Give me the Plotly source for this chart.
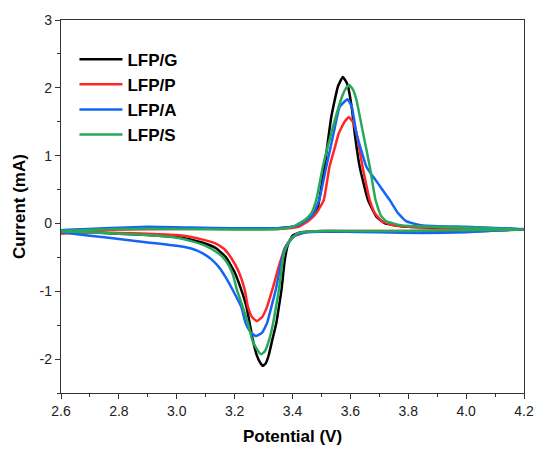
import plotly.graph_objects as go

names = ["LFP/G", "LFP/P", "LFP/A", "LFP/S"]
colors = ["#000000", "#FF2626", "#1565F5", "#27A85A"]

# LFP/G (forward scan 2.6 -> 4.2, then reverse 4.2 -> 2.6)
g_v = [2.60, 2.80, 3.00, 3.20, 3.35, 3.41, 3.445, 3.47, 3.488, 3.50, 3.511, 3.522, 3.534, 3.557, 3.574,
       3.590, 3.605, 3.615, 3.632, 3.661, 3.690, 3.72, 3.80, 4.00, 4.20,
       4.00, 3.80, 3.60, 3.50, 3.43, 3.40, 3.385, 3.373, 3.362, 3.353, 3.344, 3.330, 3.318, 3.308, 3.298,
       3.288, 3.277, 3.263, 3.252, 3.241, 3.223, 3.20, 3.17, 3.137, 3.10, 3.05, 3.00, 2.90, 2.80, 2.70, 2.60]
g_i = [-0.10, -0.08, -0.07, -0.07, -0.07, -0.04, 0.05, 0.12, 0.25, 0.55, 0.84, 1.20, 1.57, 2.02, 2.16,
       2.05, 1.70, 1.33, 0.84, 0.345, 0.10, 0.0, -0.05, -0.07, -0.09,
       -0.11, -0.12, -0.12, -0.12, -0.13, -0.18, -0.30, -0.55, -0.98, -1.23, -1.47, -1.72, -1.94, -2.06, -2.10,
       -2.05, -1.95, -1.72, -1.47, -1.23, -0.98, -0.72, -0.50, -0.37, -0.30, -0.24, -0.20, -0.17, -0.15, -0.13, -0.12]

# LFP/P
p_v = [2.60, 2.80, 3.00, 3.20, 3.35, 3.42, 3.459, 3.485, 3.508, 3.528, 3.545, 3.560, 3.580, 3.595,
       3.608, 3.621, 3.642, 3.667, 3.685, 3.707, 3.74, 3.80, 4.00, 4.20,
       4.00, 3.80, 3.60, 3.50, 3.45, 3.40, 3.375, 3.355, 3.330, 3.312, 3.295, 3.277, 3.260, 3.246,
       3.235, 3.215, 3.19, 3.165, 3.137, 3.10, 3.05, 3.00, 2.90, 2.80, 2.70, 2.60]
p_i = [-0.12, -0.09, -0.08, -0.08, -0.08, -0.05, 0.05, 0.17, 0.345, 0.84, 1.10, 1.33, 1.50, 1.565,
       1.50, 1.33, 0.84, 0.345, 0.15, 0.04, -0.02, -0.05, -0.07, -0.09,
       -0.10, -0.11, -0.11, -0.11, -0.12, -0.20, -0.35, -0.60, -0.98, -1.23, -1.38, -1.44, -1.38, -1.23,
       -0.98, -0.72, -0.52, -0.38, -0.30, -0.25, -0.20, -0.17, -0.15, -0.14, -0.13, -0.15]

# LFP/A
a_v = [2.60, 2.75, 2.90, 3.05, 3.20, 3.35, 3.41, 3.445, 3.47, 3.492, 3.517, 3.542, 3.563, 3.590,
       3.605, 3.621, 3.655, 3.670, 3.684, 3.71, 3.736, 3.765, 3.794, 3.85, 4.00, 4.20,
       4.00, 3.85, 3.70, 3.55, 3.45, 3.41, 3.38, 3.365, 3.342, 3.327, 3.312, 3.295, 3.273, 3.255,
       3.238, 3.223, 3.192, 3.17, 3.145, 3.12, 3.09, 3.05, 3.00, 2.90, 2.80, 2.70, 2.60]
a_i = [-0.10, -0.07, -0.05, -0.06, -0.07, -0.07, -0.04, 0.04, 0.13, 0.345, 0.84, 1.33, 1.72, 1.83,
       1.72, 1.33, 0.84, 0.74, 0.66, 0.50, 0.345, 0.15, 0.03, -0.03, -0.05, -0.08,
       -0.13, -0.14, -0.13, -0.12, -0.13, -0.17, -0.32, -0.50, -0.98, -1.23, -1.47, -1.61, -1.66, -1.60,
       -1.47, -1.23, -0.97, -0.80, -0.64, -0.53, -0.44, -0.37, -0.33, -0.28, -0.23, -0.18, -0.13]

# LFP/S
s_v = [2.60, 2.80, 3.00, 3.20, 3.35, 3.40, 3.442, 3.465, 3.482, 3.505, 3.534, 3.567, 3.583, 3.596,
       3.608, 3.621, 3.644, 3.667, 3.687, 3.705, 3.724, 3.78, 4.00, 4.20,
       4.00, 3.80, 3.60, 3.50, 3.42, 3.39, 3.37, 3.353, 3.343, 3.333, 3.319, 3.305, 3.292, 3.278, 3.261,
       3.246, 3.228, 3.208, 3.196, 3.189, 3.18, 3.16, 3.137, 3.10, 3.05, 3.00, 2.90, 2.80, 2.70, 2.60]
s_i = [-0.11, -0.08, -0.08, -0.09, -0.08, -0.05, 0.05, 0.15, 0.345, 0.84, 1.33, 1.82, 1.98, 2.04,
       1.98, 1.82, 1.33, 0.84, 0.345, 0.12, 0.03, -0.03, -0.06, -0.09,
       -0.10, -0.11, -0.11, -0.11, -0.14, -0.25, -0.45, -0.98, -1.23, -1.47, -1.72, -1.88, -1.93, -1.86, -1.72,
       -1.47, -1.23, -0.98, -0.78, -0.70, -0.62, -0.50, -0.42, -0.33, -0.26, -0.21, -0.17, -0.15, -0.13, -0.12]

x_ticks = [2.6, 2.8, 3.0, 3.2, 3.4, 3.6, 3.8, 4.0, 4.2]
y_ticks = [-2, -1, 0, 1, 2, 3]

series = [(g_v, g_i), (p_v, p_i), (a_v, a_i), (s_v, s_i)]

FONT = "Arial, 'Liberation Sans', sans-serif"

fig = go.Figure()
for name, col, (vx, iy) in zip(names, colors, series):
    fig.add_trace(go.Scatter(
        x=vx, y=iy, mode="lines", name=name,
        line=dict(color=col, width=2.5, shape="spline", smoothing=0.4),
    ))

axis_common = dict(
    showline=True, linecolor="#333333", linewidth=1.3, mirror=True,
    ticks="outside", ticklen=5, tickwidth=1.2, tickcolor="#333333",
    showgrid=False, zeroline=False, automargin=False,
    tickfont=dict(family=FONT, size=14, color="#222222"),
)

fig.update_xaxes(
    range=[2.6, 4.2], tickvals=x_ticks, ticktext=[f"{v:.1f}" for v in x_ticks],
    minor=dict(dtick=0.1, tick0=2.6, ticks="outside", ticklen=3, tickwidth=1.2, tickcolor="#333333", showgrid=False),
    title=dict(text="<b>Potential (V)</b>", font=dict(family=FONT, size=17, color="#000000"), standoff=12),
    **axis_common,
)
fig.update_yaxes(
    range=[-2.5, 3], tickvals=y_ticks, ticktext=[str(v) for v in y_ticks],
    minor=dict(dtick=0.5, tick0=0, ticks="outside", ticklen=3, tickwidth=1.2, tickcolor="#333333", showgrid=False),
    title=dict(text="<b>Current (mA)</b>", font=dict(family=FONT, size=17, color="#000000"), standoff=9),
    **axis_common,
)

fig.update_layout(
    width=536, height=451,
    margin=dict(l=61, r=12, t=20, b=58, autoexpand=False),
    paper_bgcolor="white", plot_bgcolor="white",
    showlegend=True,
    legend=dict(
        x=0.029, y=0.942, xanchor="left", yanchor="top",
        bgcolor="rgba(0,0,0,0)", borderwidth=0,
        font=dict(family=FONT, size=17, color="#000000", weight="bold"),
        itemwidth=43, tracegroupgap=0,
    ),
)

fig.write_html(
    "out.html",
    config={"displayModeBar": False},
    post_script="document.body.style.margin='0';document.body.style.padding='0';document.body.style.overflow='hidden';",
)
